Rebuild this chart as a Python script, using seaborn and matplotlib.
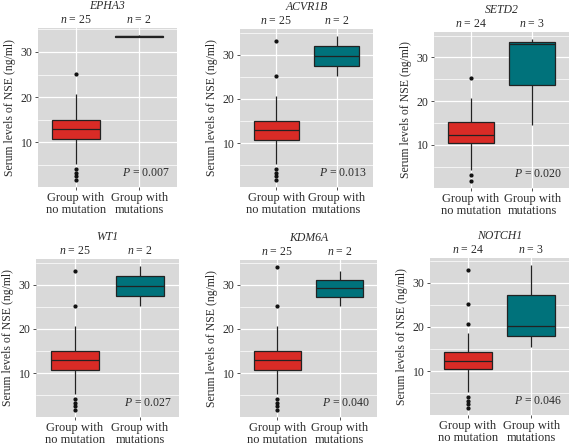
import numpy as np
import pandas as pd
import matplotlib
matplotlib.use("Agg")
import matplotlib.pyplot as plt
import matplotlib.transforms as mtransforms
import seaborn as sns

sns.set_theme(style="white")
plt.rcParams['font.family'] = ['Liberation Serif', 'DejaVu Serif']
plt.rcParams['mathtext.fontset'] = 'custom'
plt.rcParams['mathtext.rm'] = 'Liberation Serif'
plt.rcParams['mathtext.it'] = 'Liberation Serif:italic'

# ---------------- data ----------------
genes = ["EPHA3", "ACVR1B", "SETD2", "WT1", "KDM6A", "NOTCH1"]
categories = ["Group with\nno mutation", "Group with\nmutations"]
p_values = ["0.007", "0.013", "0.020", "0.027", "0.040", "0.046"]

epha3_no_mut = [1.7, 2.6, 3.3, 4.1, 5.3, 8.2, 10.7, 11.0, 11.6, 12.0, 12.4, 12.8, 13.0,
                13.3, 13.7, 14.1, 14.4, 14.8, 15.0, 15.8, 16.9, 18.2, 19.4, 20.7, 25.2]
epha3_mut = [33.3, 33.7]

acvr1b_no_mut = [1.7, 2.6, 3.3, 4.1, 5.3, 8.2, 10.7, 11.0, 11.6, 12.0, 12.4, 12.8, 13.0,
                 13.3, 13.7, 14.1, 14.4, 14.8, 15.0, 16.5, 18.0, 19.3, 20.7, 25.2, 33.0]
acvr1b_mut = [25.2, 34.2]

setd2_no_mut = [1.7, 3.0, 4.2, 7.0, 9.0, 10.5, 10.5, 10.9, 11.3, 11.7, 12.0, 12.3,
                12.3, 12.8, 13.4, 14.0, 14.6, 15.2, 15.2, 16.5, 17.8, 19.2, 20.7, 25.2]
setd2_mut = [14.4, 33.0, 34.2]

wt1_no_mut = [1.7, 2.6, 3.3, 4.1, 5.3, 8.2, 10.7, 11.0, 11.6, 12.0, 12.4, 12.8, 13.0,
              13.3, 13.7, 14.1, 14.4, 14.8, 15.0, 16.5, 18.0, 19.3, 20.7, 25.2, 33.0]
wt1_mut = [25.2, 34.2]

kdm6a_no_mut = [1.7, 2.6, 3.3, 4.1, 5.3, 8.2, 10.7, 11.0, 11.6, 12.0, 12.4, 12.8, 13.0,
                13.3, 13.7, 14.1, 14.4, 14.8, 15.0, 16.5, 18.0, 19.3, 20.7, 25.2, 34.0]
kdm6a_mut = [25.2, 33.2]

notch1_no_mut = [1.7, 2.6, 3.3, 4.1, 5.4, 10.5, 10.5, 10.9, 11.2, 11.6, 11.9, 12.2,
                 12.2, 12.6, 13.0, 13.5, 14.0, 14.4, 14.4, 16.0, 18.6, 20.7, 25.2, 33.0]
notch1_mut = [15.5, 20.3, 34.0]

groups = {
    "EPHA3": (epha3_no_mut, epha3_mut),
    "ACVR1B": (acvr1b_no_mut, acvr1b_mut),
    "SETD2": (setd2_no_mut, setd2_mut),
    "WT1": (wt1_no_mut, wt1_mut),
    "KDM6A": (kdm6a_no_mut, kdm6a_mut),
    "NOTCH1": (notch1_no_mut, notch1_mut),
}

colors = ["#D92B26", "#00727B"]

# panel pixel boxes: left, top, right, bottom
W, H = 574, 446
panels = {
    "EPHA3": (38, 28, 177, 187),
    "ACVR1B": (240, 29, 373, 187),
    "SETD2": (434, 32, 569, 188),
    "WT1": (36, 259, 179, 417),
    "KDM6A": (240, 260, 377, 417),
    "NOTCH1": (430, 258, 569, 415),
}

fig = plt.figure(figsize=(W / 100, H / 100), dpi=100)
txtc = "#2b2b2b"

for gene, pv in zip(genes, p_values):
    l, t, r, b = panels[gene]
    ph = b - t
    ax = fig.add_axes([l / W, 1 - b / H, (r - l) / W, ph / H])
    a, m = groups[gene]
    df = pd.DataFrame({
        "group": [categories[0]] * len(a) + [categories[1]] * len(m),
        "value": list(a) + list(m),
    })
    ax.set_facecolor("#D9D9D9")
    sns.boxplot(data=df, x="group", y="value", hue="group", order=categories,
                hue_order=categories, palette=colors, saturation=1, legend=False,
                width=0.75, linecolor="#222222", linewidth=0.9, whis=1.5,
                showcaps=False,
                flierprops=dict(marker="o", markerfacecolor="#111111",
                                markeredgecolor="#111111", markersize=2.0),
                ax=ax, zorder=3)
    vals = np.array(df["value"])
    lo, hi = vals.min(), vals.max()
    pad = 0.05 * (hi - lo)
    ax.set_ylim(lo - pad, hi + pad)
    ax.set_xlim(-0.6, 1.6)
    ax.set_yticks([10, 20, 30])
    ax.set_yticks([5, 15, 25, 35], minor=True)
    ax.grid(True, which="major", color="white", linewidth=0.9, zorder=0)
    ax.grid(True, which="minor", axis="y", color="white", linewidth=0.5, zorder=0)
    ax.set_axisbelow(True)
    for s in ax.spines.values():
        s.set_visible(False)
    ax.tick_params(axis="both", which="major", length=2.5, width=0.6, color="#333333",
                   labelsize=8.5, labelcolor=txtc, pad=1.5, left=True, bottom=True)
    ax.tick_params(axis="x", which="major", pad=1.0)
    ax.tick_params(axis="y", which="minor", length=0)
    for lab in ax.get_xticklabels():
        lab.set_linespacing(1.0)
        lab.set_fontsize(9)
    ax.set_xlabel("")
    ax.set_ylabel("Serum levels of NSE (ng/ml)", fontsize=8.5, color=txtc, labelpad=3)
    # n labels and title
    trans = mtransforms.blended_transform_factory(ax.transData, ax.transAxes)
    for i, grp in enumerate([a, m]):
        ax.text(i, 1 + 8 / ph, f"$n$ = {len(grp)}", transform=trans, ha="center",
                va="center", fontsize=8.5, color=txtc)
    ax.text(0.5, 1 + 22 / ph, gene, transform=ax.transAxes, ha="center",
            va="center", fontsize=8.5, style="italic", color=txtc)
    ax.text(0.95, 0.05, f"$P$ = {pv}", transform=ax.transAxes, ha="right",
            va="bottom", fontsize=8.5, color=txtc)

fig.savefig("out.png", dpi=100)
